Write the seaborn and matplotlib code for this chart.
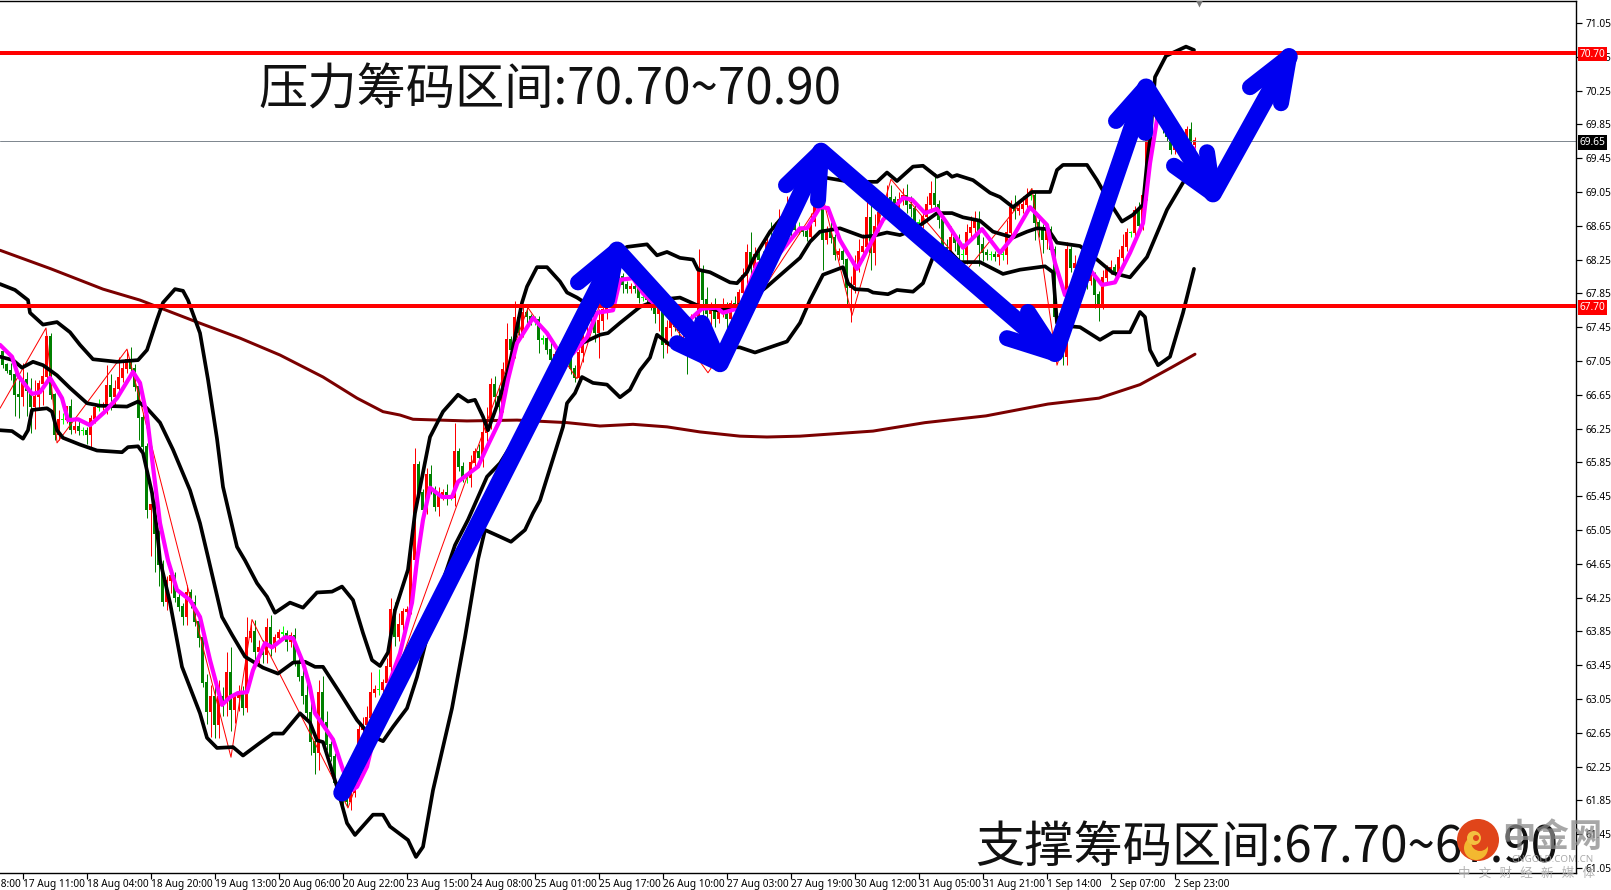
import numpy as np
import matplotlib
matplotlib.use("Agg")
import matplotlib.pyplot as plt
from matplotlib.patches import Circle
import seaborn as sns

close = [
67.00,66.93,66.88,66.65,66.62,66.82,66.70,66.50,66.62,66.78,
66.86,67.33,66.65,66.17,66.35,66.35,66.50,66.23,66.27,66.22,
66.22,66.17,66.36,66.49,66.50,66.52,66.75,66.62,66.72,66.85,
66.96,67.06,66.96,66.74,66.37,66.03,65.29,65.34,65.00,64.64,
64.20,64.45,64.50,64.25,64.14,64.02,64.30,64.18,63.96,63.77,
63.24,62.90,63.07,62.74,63.07,63.00,63.36,62.92,63.06,63.12,
62.94,63.77,63.84,63.60,63.65,63.57,63.89,63.66,63.77,63.83,
63.82,63.72,63.79,63.49,63.31,63.09,62.88,62.54,62.41,63.12,
62.76,62.50,62.36,62.05,61.95,61.85,61.83,61.94,62.10,62.68,
62.74,62.82,63.12,63.16,63.15,63.24,63.43,64.10,63.78,63.92,
64.08,64.10,64.69,65.82,65.49,65.29,65.70,65.52,65.32,65.46,
65.49,65.44,65.43,65.97,65.80,65.67,65.66,65.84,65.97,65.90,
66.20,66.35,66.77,66.62,66.50,66.94,67.30,67.18,67.56,67.38,
67.62,67.57,67.53,67.53,67.30,67.31,67.18,67.06,67.12,67.20,
67.15,67.05,66.95,66.85,67.14,67.50,67.60,67.62,67.38,67.52,
67.65,67.90,67.89,68.07,68.04,67.95,67.90,67.92,67.90,67.79,
67.80,67.77,67.70,67.60,67.70,67.24,67.44,67.53,67.45,67.40,
67.45,67.30,67.50,67.35,68.13,67.77,67.60,67.65,67.55,67.62,
67.70,67.55,67.72,67.70,67.85,68.05,68.33,68.15,68.30,68.25,
68.20,68.45,68.40,68.55,68.65,68.60,68.75,68.65,68.60,68.60,
68.58,68.52,68.70,68.90,68.90,68.48,68.60,68.50,68.30,68.34,
68.25,67.91,67.95,68.20,68.34,68.40,68.74,68.33,68.64,68.80,
68.87,68.98,68.95,68.85,68.95,69.00,68.90,68.85,68.68,68.67,
68.75,68.90,69.03,68.90,68.72,68.39,68.25,68.50,68.45,68.30,
68.30,68.57,68.62,68.72,68.42,68.33,68.30,68.30,68.28,68.30,
68.30,68.57,68.86,68.83,68.85,68.90,69.00,69.00,68.68,68.62,
68.48,68.60,68.36,67.57,67.50,67.10,68.36,68.15,68.20,68.15,
68.10,68.00,68.05,67.83,67.72,68.03,68.13,68.15,68.10,68.27,
68.40,68.57,68.57,68.83,68.65,69.00,69.70,70.20,69.95,70.00,
69.85,69.70,69.55,69.60,69.55,69.50,69.78,69.60,69.65]
upper_wick = [
.05,.03,.10,.05,.25,.20,.10,.15,.20,.05,
.15,.02,.05,.02,.12,.08,.02,.10,.08,.08,
.05,.05,.05,.03,.10,.05,.25,.15,.10,.25,
.10,.12,.15,.05,.10,.05,.05,.02,.05,.05,
.05,.05,.10,.05,.05,.05,.10,.05,.10,.05,
.05,.10,.15,.15,.20,.12,.25,.30,.05,.10,
.08,.25,.10,.15,.10,.10,.12,.15,.05,.05,
.08,.05,.05,.10,.08,.10,.15,.20,.10,.15,
.20,.15,.05,.05,.05,.03,.03,.10,.15,.10,
.10,.15,.25,.05,.25,.05,.10,.15,.10,.15,
.05,.05,.15,.20,.05,.05,.08,.12,.05,.10,
.05,.10,.03,.35,.05,.05,.05,.10,.05,.10,
.15,.15,.08,.10,.15,.10,.20,.05,.20,.05,
.08,.10,.03,.05,.05,.05,.05,.10,.05,.05,
.05,.05,.05,.05,.05,.10,.20,.15,.10,.15,
.10,.15,.10,.30,.05,.05,.05,.05,.05,.10,
.05,.05,.05,.05,.20,.05,.10,.05,.05,.10,
.10,.05,.10,.10,.25,.05,.15,.10,.15,.10,
.10,.05,.05,.10,.05,.10,.10,.25,.10,.10,
.10,.10,.25,.15,.20,.05,.25,.15,.20,.10,
.05,.05,.10,.05,.05,.10,.05,.10,.05,.05,
.05,.02,.10,.10,.15,.15,.20,.25,.15,.05,
.10,.15,.15,.05,.10,.10,.15,.10,.05,.05,
.10,.10,.15,.25,.05,.05,.10,.15,.05,.10,
.15,.10,.15,.10,.10,.10,.05,.05,.05,.05,
.10,.15,.10,.15,.10,.10,.10,.10,.05,.05,
.05,.05,.05,.05,.05,.05,.10,.05,.10,.05,
.10,.05,.10,.05,.05,.10,.05,.10,.05,.10,
.15,.05,.02,.05,.10,.10,.15,.15,.05,.10,
.05,.10,.10,.10,.15,.10,.05,.10,.05]
lower_wick = [
.03,.02,.05,.25,.25,.10,.30,.30,.25,.15,
.25,.03,.05,.05,.05,.05,.03,.05,.03,.05,
.05,.10,.15,.05,.03,.03,.10,.15,.10,.08,
.05,.05,.05,.05,.25,.05,.10,.55,.45,.25,
.05,.10,.15,.05,.05,.10,.10,.05,.05,.10,
.05,.15,.30,.15,.15,.15,.15,.25,.15,.15,
.08,.05,.05,.10,.15,.10,.10,.10,.05,.05,
.05,.10,.05,.05,.05,.10,.05,.15,.25,.20,
.05,.05,.05,.05,.05,.05,.05,.10,.05,.05,
.05,.10,.10,.05,.05,.05,.05,.05,.10,.05,
.05,.05,.05,.05,.05,.10,.05,.05,.05,.10,
.05,.10,.03,.10,.05,.05,.05,.10,.05,.10,
.10,.10,.10,.10,.15,.05,.10,.05,.10,.05,
.05,.08,.05,.05,.15,.05,.05,.10,.05,.05,
.05,.05,.05,.05,.05,.10,.15,.10,.10,.30,
.10,.10,.10,.05,.05,.10,.05,.05,.05,.05,
.03,.05,.05,.10,.20,.15,.10,.10,.05,.05,
.10,.40,.05,.10,.10,.20,.10,.15,.10,.05,
.05,.15,.10,.05,.10,.05,.10,.10,.10,.05,
.10,.10,.05,.10,.15,.10,.10,.15,.05,.05,
.05,.05,.05,.05,.05,.35,.05,.05,.05,.05,
.05,.20,.40,.10,.10,.10,.05,.20,.15,.05,
.10,.10,.10,.05,.10,.05,.10,.10,.10,.05,
.05,.05,.05,.05,.10,.05,.10,.05,.10,.20,
.05,.10,.05,.05,.25,.10,.05,.05,.05,.10,
.05,.10,.05,.10,.05,.05,.05,.05,.20,.10,
.15,.10,.05,.05,.35,.10,.10,.05,.10,.10,
.10,.10,.05,.15,.20,.05,.05,.05,.05,.05,
.05,.05,.05,.05,.05,.05,.05,.05,.10,.05,
.10,.05,.05,.05,.05,.05,.05,.05,.05]

upper_band = [(-.75,67.96),(3,67.89),(6.25,67.77),(6.75,67.62),(10,67.48),(13.5,67.51),(16.75,67.39),(19.25,67.24),(22.5,67.07),(28.5,67.04),(33.75,67.06),(36,67.18),(38.5,67.54),(40,67.74),(43,67.90),(45,67.88),(46.25,67.77),(49.25,67.38),(51.25,66.83),(53.5,66.13),(55,65.56),(58.5,64.85),(60.5,64.69),(63.5,64.42),(66,64.26),(68,64.07),(71.75,64.19),(75,64.13),(78.5,64.31),(82.25,64.32),(84.75,64.38),(87.5,64.22),(90,63.83),(92.25,63.51),(94.25,63.44),(96.25,63.60),(98,64.10),(101.25,64.58),(103,65.25),(106.75,66.15),(110,66.45),(113.75,66.65),(116.25,66.57),(118,66.59),(120,66.39),(121.25,66.23),(124.25,66.62),(126.75,67.03),(128.5,67.45),(129.75,67.74),(131,67.93),(133.5,68.16),(136,68.16),(139.25,67.99),(141,67.86),(143.5,67.80),(146.75,67.70),(150.5,68.19),(153.5,68.33),(156,68.40),(161,68.43),(163.5,68.30),(166,68.34),(169.25,68.27),(172.5,68.25),(173.75,68.13),(176.75,68.10),(181.75,67.98),(183.5,67.97),(186,68.10),(187.5,68.25),(191.75,68.58),(194.25,68.72),(199.25,68.98),(205.5,69.22),(211.75,69.17),(218.5,69.17),(221,69.28),(223.5,69.18),(227.5,69.35),(230,69.36),(233.5,69.23),(236,69.28),(237.25,69.23),(238.5,69.25),(242.5,69.19),(246.75,69.04),(249.25,68.99),(252.5,68.87),(257.25,69.05),(261.75,69.05),(263.5,69.31),(265,69.37),(271,69.37),(273.5,69.19),(276.75,68.92),(279.75,68.70),(282.5,68.78),(285,68.90),(286,69.39),(286.75,69.66),(288,70.41),(290.75,70.66),(295.75,70.77),(297.75,70.73)]
mid_band = [(-.75,67.10),(2.5,67.06),(4.75,66.97),(7.5,67.04),(10,67.0),(13.5,66.88),(16.75,66.73),(21,66.55),(24.25,66.52),(31,66.51),(33.75,66.57),(36,66.49),(39.25,66.32),(42.5,66.0),(46.75,65.52),(49.25,65.13),(51.25,64.73),(54.75,64.02),(57.25,63.81),(60.5,63.55),(65,63.42),(68.75,63.35),(72.5,63.48),(75.5,63.49),(78,63.43),(80,63.43),(84.25,63.12),(88.5,62.80),(91.75,62.62),(95,62.55),(97.5,62.72),(101,62.94),(103.5,63.31),(106,63.78),(110.5,64.52),(113,64.87),(116.25,65.17),(121,65.68),(124.25,65.84),(134.25,66.59),(143,67.22),(149.25,67.36),(151.25,67.38),(154.25,67.50),(159.25,67.69),(163.5,67.77),(169.25,67.80),(173.5,67.71),(178.5,67.65),(182.5,67.68),(186.75,67.77),(191,67.93),(199.25,68.27),(201.75,68.46),(204.25,68.58),(209.25,68.62),(215,68.52),(217.5,68.53),(221,68.57),(224.25,68.54),(227.5,68.60),(230,68.68),(233.5,68.80),(237.25,68.80),(240,68.75),(244.25,68.71),(247.5,68.58),(252.5,68.51),(256,68.58),(258.5,68.62),(261.25,68.61),(263.5,68.45),(269.25,68.41),(273.5,68.25),(277.5,68.09),(281.75,68.04),(286,68.28),(291,68.84),(295,69.16),(297.75,69.33)]
lower_band = [(-.75,66.23),(2.25,66.22),(5,66.13),(6.25,66.23),(7.25,66.47),(11,66.49),(12.25,66.45),(13.5,66.23),(15,66.14),(19.25,66.06),(23.5,65.99),(29.75,65.97),(31.25,66.03),(33.75,66.04),(35,65.96),(37.25,65.49),(38.5,65.05),(39.25,64.69),(41.75,64.19),(44.75,63.43),(49.25,62.88),(51,62.59),(53.5,62.47),(57.5,62.48),(60,62.38),(64.25,62.53),(67.5,62.64),(70,62.64),(74.25,62.88),(76.75,62.77),(78.5,62.56),(80,62.54),(83.5,62.01),(86,61.58),(88,61.44),(92.5,61.68),(95,61.68),(96.75,61.54),(101.25,61.38),(103.25,61.18),(105,61.30),(107.5,61.97),(112.25,62.94),(115.5,63.78),(118.75,64.70),(120.5,65.05),(124.25,64.97),(127,64.91),(130.5,65.05),(132.5,65.25),(134.25,65.40),(140,66.27),(141,66.55),(143,66.67),(144.75,66.86),(147.5,66.79),(151,66.77),(154.25,66.62),(156.75,66.71),(159.25,66.94),(161.75,67.09),(163.5,67.36),(166.75,67.24),(174.25,67.24),(184.25,67.21),(188,67.15),(193.5,67.24),(196,67.28),(199.25,67.50),(201.75,67.77),(205,68.07),(210,68.16),(211.25,67.97),(213,67.90),(216.25,67.89),(217.5,67.86),(221.25,67.84),(223.5,67.89),(227.5,67.87),(230,67.97),(232.5,68.28),(236.75,68.34),(239.25,68.22),(244.25,68.22),(250,68.08),(254.25,68.13),(260.5,68.17),(262.5,68.10),(263.5,67.50),(266.75,67.46),(269.25,67.45),(274.25,67.30),(277.5,67.39),(281.75,67.39),(284.25,67.63),(285.5,67.57),(286.75,67.18),(288.75,67.0),(291.75,67.10),(295,67.62),(297.75,68.14)]
slow_ma = [(-.75,68.36),(12,68.14),(25,67.90),(34.25,67.77),(48.5,67.51),(59.25,67.32),(69.25,67.12),(80,66.86),(88.5,66.61),(95,66.45),(99.25,66.41),(102.5,66.36),(116,66.34),(128.5,66.35),(141,66.32),(149.25,66.28),(157.5,66.30),(166,66.27),(174.25,66.21),(184.25,66.16),(191,66.15),(199.25,66.16),(217.5,66.22),(230.5,66.32),(245.75,66.40),(261.25,66.54),(274,66.61),(284.25,66.77),(292,66.97),(298,67.13)]
fast_ma = [(-.75,67.24),(2.25,67.10),(3.75,66.88),(7.25,66.66),(9.25,66.68),(11.75,66.85),(14.75,66.61),(16.25,66.35),(18.75,66.36),(21.75,66.29),(25.5,66.45),(28.5,66.61),(32.5,66.92),(34.25,66.79),(36,66.39),(37.5,65.80),(39.25,65.13),(41.25,64.69),(43.5,64.34),(46.75,64.22),(49.25,64.02),(51.75,63.51),(54.75,62.98),(56.75,63.07),(58.75,63.12),(61,63.13),(62.5,63.39),(65.5,63.71),(67.25,63.66),(70.5,63.78),(72.5,63.77),(75,63.48),(76.75,63.19),(78,62.88),(82.5,62.57),(85,62.21),(87.25,61.97),(88.5,62.01),(91,62.25),(95,63.04),(99.25,63.59),(102.25,64.19),(103.5,64.69),(105,65.17),(106.75,65.55),(109.75,65.44),(112.25,65.44),(113.75,65.62),(118.75,65.80),(121,66.03),(124.25,66.35),(126.25,66.83),(128.5,67.26),(132.5,67.56),(136,67.38),(139.25,67.14),(142.5,67.14),(146,67.33),(148.5,67.62),(152.5,67.65),(154.25,68.01),(157.5,68.03),(160,67.85),(162.5,67.74),(168.5,67.60),(171.75,67.54),(174.75,67.67),(178.5,67.68),(180,67.62),(184.25,67.68),(188.5,68.19),(194.25,68.33),(199.25,68.62),(201,68.62),(204.25,68.87),(206.25,68.86),(209.25,68.48),(213.5,68.14),(216,68.36),(220,68.72),(225,68.98),(227.25,68.96),(230.5,68.80),(233.5,68.85),(236,68.68),(240,68.39),(244.75,68.61),(249.25,68.33),(252.5,68.52),(256.75,68.87),(261,68.66),(263,68.21),(265.5,67.83),(268.5,68.04),(271.75,68.13),(274.75,67.95),(278,67.98),(281.75,68.33),(285,68.68),(286.75,69.39),(288.75,69.98),(294.5,69.68),(297.75,69.56)]
zigzag = [(-.75,66.49),(10.75,67.44),(13.5,66.08),(31,67.19),(57,62.36),(62.25,63.99),(86.25,61.76),(131.25,67.68),(143.5,66.84),(153.5,68.39),(176.25,66.91),(205,68.98),(212.25,67.59),(222,69.2),(241,68.13),(257.25,69.09),(263.5,67.0),(286.75,70.35),(297.75,69.56)]
arrow_path = [(84.75,61.94),(153.5,68.36),(179.25,67.02),(204.5,69.53),(263,67.14),(285.75,70.29),(302.5,69.03),(321.5,70.65)]
arrow_wings = [[(143.75,67.98),(151,67.77)],[(168.5,67.26),(174.75,67.50)],[(195.75,69.13),(203.75,68.95)],[(251,67.32),(256.25,67.63)],[(278.25,69.89),(285.5,69.75)],[(292.75,69.36),(301,69.52)],[(311.75,70.29),(319.5,70.10)]]

resistance = 70.70
support = 67.70
last_price = 69.65
price_ticks = [71.05,70.65,70.25,69.85,69.45,69.05,68.65,68.25,67.85,67.45,67.05,66.65,66.25,65.85,65.45,65.05,64.65,64.25,63.85,63.45,63.05,62.65,62.25,61.85,61.45,61.05]
time_labels = ["17 Aug 11:00","18 Aug 04:00","18 Aug 20:00","19 Aug 13:00","20 Aug 06:00","20 Aug 22:00","23 Aug 15:00","24 Aug 08:00","25 Aug 01:00","25 Aug 17:00","26 Aug 10:00","27 Aug 03:00","27 Aug 19:00","30 Aug 12:00","31 Aug 05:00","31 Aug 21:00","1 Sep 14:00","2 Sep 07:00","2 Sep 23:00"]
time_ticks = [5+16*k for k in range(len(time_labels))]
first_time_label = "16 Aug 18:00"
title_top = "压力筹码区间:70.70~70.90"
title_bottom = "支撑筹码区间:67.70~67.90"

W, H = 1611, 890
sns.set_theme(style="white")
plt.rcParams["font.family"] = ["Noto Sans CJK SC", "DejaVu Sans"]
PX = 72/100
fig = plt.figure(figsize=(W/100, H/100), dpi=100, facecolor="white")
ax = fig.add_axes([0, 1-873/H, 1576/W, 872/H])
ax.set_xlim(-0.75, 393.25)
ax.set_ylim(60.99, 71.31)

# candles
c = np.array(close)
o = np.r_[c[0]+0.15, c[:-1]]
x = np.arange(len(c))
hi = np.maximum(o, c)+np.array(upper_wick)
lo = np.minimum(o, c)-np.array(lower_wick)
cols = np.where(np.abs(o-c) < 0.012, "#00ff00", np.where(c >= o, "#ff0000", "#008000"))
ax.vlines(x, lo, hi, colors=cols, lw=1*PX, zorder=2)
ax.bar(x, np.abs(c-o)+0.012, bottom=np.minimum(o, c), width=0.75, color=cols, linewidth=0, zorder=2.1)

def draw(pts, color, lw, z):
    a = np.array(pts)
    sns.lineplot(x=a[:, 0], y=a[:, 1], color=color, lw=lw*PX, estimator=None, sort=False,
                 ax=ax, zorder=z, legend=False, solid_joinstyle="round")

draw(zigzag, "#ff0000", 1, 2.3)
draw(slow_ma, "#7b0000", 3, 2.4)
draw(upper_band, "#000000", 3.7, 2.5)
draw(mid_band, "#000000", 3.7, 2.5)
draw(lower_band, "#000000", 3.7, 2.5)
draw(fast_ma, "#ff00ff", 4.2, 2.6)

ax.axhline(last_price, color="#808890", lw=1*PX, zorder=2.2)
ax.axhline(resistance, color="#ff0000", lw=4*PX, zorder=3)
ax.axhline(support, color="#ff0000", lw=4*PX, zorder=3)

# hand-drawn arrows
pa = np.array(arrow_path)
blue = "#0000f0"
ax.plot(pa[:, 0], pa[:, 1], color=blue, lw=17.5*PX, solid_capstyle="round", solid_joinstyle="round", zorder=5)
for tip, wing in zip(arrow_path[1:], arrow_wings):
    for w in wing:
        ax.plot([w[0], tip[0]], [w[1], tip[1]], color=blue, lw=16*PX, solid_capstyle="round", zorder=5)

# axes look
ax.spines["left"].set_visible(False)
for s in ["right", "bottom", "top"]:
    ax.spines[s].set_visible(True)
    ax.spines[s].set_color("black")
    ax.spines[s].set_linewidth(1.4*PX)
ax.grid(False)
tick_font = dict(family="Noto Sans", fontsize=7.3, color="black")
ax.yaxis.tick_right()
ax.set_yticks(price_ticks)
ax.set_yticklabels([f"{v:.2f}" for v in price_ticks], **tick_font)
ax.tick_params(axis="y", direction="out", length=4*PX*1.4, width=1.2*PX, pad=3, color="black", right=True, left=False)
ax.set_xticks(time_ticks)
ax.set_xticklabels(time_labels, ha="left", **tick_font)
ax.tick_params(axis="x", direction="out", length=4*PX*1.4, width=1.2*PX, pad=0.6, color="black", bottom=True)
ax.annotate(first_time_label, xy=(-11, 0), xycoords=ax.get_xaxis_transform(),
            xytext=(0, -4.6), textcoords="offset points", ha="left", va="top", annotation_clip=False, **tick_font)

# price boxes
for val, bg in [(resistance, "#ff0000"), (support, "#ff0000"), (last_price, "#000000")]:
    ax.annotate(f"{val:.2f}", xy=(1, val), xycoords=("axes fraction", "data"),
                xytext=(2.6, 0), textcoords="offset points", ha="left", va="center_baseline",
                family="Noto Sans", fontsize=7.3, color="white", annotation_clip=False, zorder=20,
                bbox=dict(boxstyle="square,pad=0.18", fc=bg, ec="none"))

# top marker
ax.plot([299], [71.31], marker="v", ms=9, color="#777777", mec="none", clip_on=True, zorder=6)

# big titles (figure pixel placement)
fp = ["Noto Sans CJK SC", "DejaVu Sans"]
fig.text(258/W, 1-90/H, title_top, fontsize=35.5, color="#111111", family=fp, va="center", ha="left", zorder=10)
fig.text(975/W, 1-848/H, title_bottom, fontsize=35.5, color="#111111", family=fp, va="center", ha="left", zorder=10)

# watermark sits above the titles
logo = fig.add_axes([0, 0, 1, 1], facecolor="none", zorder=20)
logo.set_xlim(0, W); logo.set_ylim(H, 0); logo.axis("off")
logo.add_patch(Circle((1478, 840), 21, fc="#e0451a", ec="none"))
logo.add_patch(Circle((1476, 848), 12, fc="#f3b830", ec="none"))
logo.add_patch(Circle((1480, 842), 9, fc="#e0451a", ec="none"))
logo.add_patch(Circle((1474, 838), 7, fc="#f3c040", ec="none"))
logo.add_patch(Circle((1476, 838), 3, fc="#e0451a", ec="none"))
logo.text(1552, 837, "中金网", fontsize=24, fontweight="bold", color="#8a8a8a", alpha=0.75, family=fp, ha="center", va="center")
logo.text(1552, 859, "CNGOLD.COM.CN", fontsize=7, color="#a0a0a0", alpha=0.9, family="Noto Sans", ha="center", va="center")
logo.text(1526, 873, "中   文   财   经   新   媒   体", fontsize=9, color="#aaaaaa", alpha=0.9, family=fp, ha="center", va="center")

fig.savefig("out.png", dpi=100, facecolor="white")
